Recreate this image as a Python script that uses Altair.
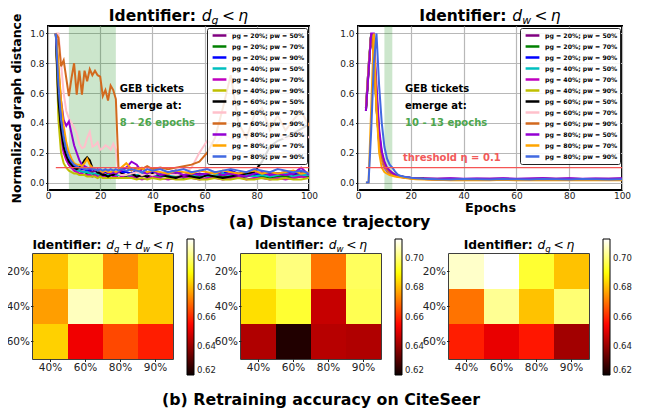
import altair as alt
import pandas as pd

# ---------------- data: distance trajectories ----------------
EPOCHS_L = list(range(3, 29)) + [30, 32, 34, 36, 38, 40] + list(range(43, 101, 3))
EPOCHS_R = list(range(3, 17)) + [18, 20, 22, 25] + list(range(30, 101, 5))

PG = ["20%", "20%", "20%", "40%", "40%", "40%", "60%", "60%", "60%", "80%", "80%", "80%"]
PW = ["50%", "70%", "90%", "50%", "70%", "90%", "50%", "70%", "90%", "50%", "70%", "90%"]
COLORS = ["#800080", "#008000", "#0000ff", "#00bfbf", "#bf00bf", "#bfbf00",
          "#000000", "#ffc0cb", "#d2691e", "#9400d3", "#ffa500", "#4169e1"]

# Identifier d_g < eta  (left panel)
dg_20_50 = [1.0,.62,.40,.28,.20,.16,.13,.12,.11,.10,.09,.09,.08,.08,.07,.08,.07,.07,.06,.07,.06,.07,.06,.06,.07,.06,
            .05,.06,.05,.04,.06,.05, .04,.05,.06,.04,.05,.06,.05,.04,.05,.06,.04,.05,.05,.04,.06,.05,.04,.05,.06,.05]
dg_20_70 = [1.0,.55,.33,.22,.16,.12,.10,.09,.08,.08,.07,.07,.06,.06,.06,.05,.06,.05,.05,.05,.04,.05,.05,.04,.05,.05,
            .04,.05,.04,.05,.04,.03, .04,.05,.04,.03,.04,.04,.05,.03,.04,.04,.03,.04,.05,.04,.03,.04,.04,.03,.04,.04]
dg_20_90 = [1.0,.70,.45,.30,.20,.15,.13,.11,.10,.10,.09,.09,.08,.08,.09,.08,.07,.08,.07,.07,.08,.07,.07,.06,.07,.07,
            .07,.06,.08,.07,.06,.07, .06,.07,.08,.06,.07,.05,.06,.07,.06,.08,.06,.07,.06,.05,.07,.06,.07,.06,.07,.06]
dg_40_50 = [1.0,.58,.36,.25,.18,.13,.11,.09,.08,.08,.07,.07,.07,.06,.06,.06,.05,.06,.05,.05,.05,.06,.05,.05,.05,.05,
            .05,.04,.05,.06,.05,.04, .05,.04,.05,.06,.04,.05,.04,.05,.06,.04,.05,.05,.04,.05,.04,.05,.06,.04,.05,.05]
dg_40_70 = [1.0,.50,.30,.20,.15,.12,.10,.08,.07,.06,.06,.05,.05,.05,.04,.05,.04,.04,.04,.04,.04,.03,.04,.04,.03,.04,
            .03,.04,.03,.02,.03,.04, .03,.02,.03,.04,.03,.02,.03,.03,.02,.03,.04,.02,.03,.03,.02,.03,.02,.03,.04,.03]
dg_40_90 = [1.0,.42,.20,.13,.10,.08,.07,.06,.06,.05,.05,.05,.04,.04,.04,.04,.03,.04,.03,.03,.03,.03,.03,.03,.03,.03,
            .03,.03,.02,.03,.02,.03, .02,.03,.02,.02,.03,.02,.02,.03,.02,.02,.03,.02,.02,.03,.02,.02,.03,.02,.02,.03]
dg_60_50 = [1.0,.55,.35,.24,.18,.14,.12,.10,.09,.10,.12,.15,.17,.15,.10,.08,.07,.06,.05,.05,.04,.05,.05,.06,.07,.06,
            .05,.06,.04,.05,.04,.06, .05,.04,.03,.05,.04,.03,.05,.04,.03,.04,.05,.06,.07,.14,.24,.28,.30,.33,.36,.39]
dg_60_70 = [1.0,1.0,.80,.60,.48,.43,.40,.37,.33,.26,.23,.24,.30,.34,.24,.25,.27,.22,.23,.25,.24,.22,.26,.22,.06,.05,
            .05,.06,.07,.05,.06,.05, .07,.06,.05,.06,.10,.20,.28,.25,.32,.30,.27,.33,.30,.26,.30,.33,.29,.31,.34,.30]
dg_60_90 = [1.0,.97,.78,.82,.70,.58,.70,.80,.59,.75,.59,.75,.68,.76,.72,.75,.72,.71,.58,.62,.55,.65,.62,.56,.10,.09,
            .10,.08,.10,.09,.11,.09, .10,.09,.10,.11,.12,.14,.20,.30,.50,.72,.40,.30,.45,.50,.35,.45,.35,.42,.48,.38]
dg_80_50 = [1.0,.75,.55,.42,.38,.41,.33,.25,.20,.15,.12,.11,.10,.09,.10,.08,.09,.08,.07,.08,.07,.06,.07,.06,.07,.08,
            .10,.14,.12,.07,.06,.08, .05,.06,.07,.05,.06,.05,.06,.07,.05,.06,.05,.04,.06,.07,.05,.06,.05,.06,.10,.05]
dg_80_70 = [1.0,.80,.55,.38,.27,.20,.16,.13,.12,.12,.11,.13,.16,.12,.10,.09,.08,.08,.07,.08,.07,.07,.08,.07,.08,.10,
            .13,.09,.08,.10,.07,.08, .07,.06,.08,.07,.06,.08,.07,.06,.08,.07,.06,.07,.08,.06,.07,.06,.07,.08,.06,.07]
dg_80_90 = [1.0,.65,.42,.30,.22,.17,.14,.12,.11,.10,.10,.09,.09,.10,.09,.09,.08,.09,.08,.09,.08,.09,.08,.09,.08,.09,
            .08,.09,.08,.07,.09,.08, .09,.07,.08,.09,.07,.08,.09,.07,.08,.09,.08,.07,.09,.08,.07,.09,.08,.07,.08,.06]

# Identifier d_w < eta  (right panel)
dw_20_50 = [.48,.75,1.0,.90,.55,.30,.18,.12,.09,.07,.06,.05,.045,.04, .035,.03,.03,.028,
            .025,.027,.024,.026,.025,.027,.024,.026,.028,.025,.027,.024,.026,.025,.027]
dw_20_70 = [.50,.78,1.0,.88,.52,.28,.17,.11,.08,.065,.055,.048,.043,.04, .034,.03,.028,.025,
            .022,.023,.021,.022,.020,.023,.021,.022,.020,.021,.023,.020,.022,.021,.020]
dw_20_90 = [.50,.77,1.0,.92,.60,.33,.20,.13,.09,.07,.06,.05,.045,.04, .035,.03,.027,.024,
            .022,.020,.022,.021,.023,.020,.022,.021,.020,.022,.021,.023,.020,.022,.021]
dw_40_50 = [.49,.76,1.0,.87,.50,.27,.16,.10,.08,.065,.055,.047,.042,.038, .033,.029,.027,.024,
            .022,.021,.020,.022,.021,.020,.022,.021,.020,.021,.022,.020,.021,.022,.020]
dw_40_70 = [.50,.78,1.0,.85,.50,.26,.16,.10,.08,.06,.05,.045,.04,.037, .032,.028,.026,.023,
            .020,.022,.021,.020,.023,.021,.020,.022,.021,.020,.022,.021,.020,.022,.021]
dw_40_90 = [.49,.77,1.0,.86,.50,.27,.17,.12,.10,.08,.065,.055,.048,.042, .035,.03,.028,.025,
            .022,.020,.021,.020,.022,.021,.020,.021,.022,.020,.021,.020,.022,.021,.020]
dw_60_50 = [.48,.75,1.0,.90,.56,.30,.18,.12,.09,.07,.06,.05,.045,.04, .034,.03,.028,.025,
            .023,.022,.021,.023,.022,.020,.022,.021,.023,.022,.020,.021,.023,.022,.021]
dw_60_70 = [.50,.78,1.0,.88,.53,.29,.17,.11,.085,.068,.057,.05,.044,.04, .034,.03,.027,.024,
            .022,.021,.022,.020,.021,.022,.021,.020,.022,.021,.020,.022,.021,.020,.022]
dw_60_90 = [.49,.76,1.0,.87,.52,.28,.17,.11,.085,.068,.057,.05,.044,.039, .033,.029,.027,.024,
            .021,.020,.021,.022,.020,.021,.022,.020,.021,.022,.020,.021,.022,.020,.021]
dw_80_50 = [.48,.74,1.0,1.0,.65,.36,.21,.14,.10,.08,.065,.055,.048,.043, .036,.032,.029,.027,
            .026,.028,.025,.027,.026,.028,.025,.027,.029,.026,.028,.025,.027,.026,.028]
dw_80_70 = [0.0,0.0,.50,1.0,.50,.20,.10,.07,.06,.05,.045,.04,.037,.035, .03,.025,.022,.02,
            .018,.016,.017,.015,.016,.018,.015,.017,.016,.015,.017,.016,.015,.017,.016]
dw_80_90 = [0.0,0.0,.35,.80,1.0,.65,.40,.24,.16,.12,.10,.075,.055,.045, .037,.032,.028,.025,
            .022,.021,.023,.022,.021,.023,.022,.021,.023,.022,.021,.023,.022,.021,.022]

LEFT = [dg_20_50, dg_20_70, dg_20_90, dg_40_50, dg_40_70, dg_40_90,
        dg_60_50, dg_60_70, dg_60_90, dg_80_50, dg_80_70, dg_80_90]
RIGHT = [dw_20_50, dw_20_70, dw_20_90, dw_40_50, dw_40_70, dw_40_90,
         dw_60_50, dw_60_70, dw_60_90, dw_80_50, dw_80_70, dw_80_90]

THRESH = 0.1
THRESH_START = 3
BAND_L = (8, 26)
BAND_R = (10, 13)

# ---------------- data: retraining accuracy heatmaps ----------------
HM_ROWS = ["20%", "40%", "60%"]
HM_COLS = ["40%", "60%", "80%", "90%"]
acc_both = [[.681, .697, .674, .682], [.676, .707, .697, .682], [.683, .652, .664, .658]]
acc_dw = [[.695, .701, .670, .698], [.685, .694, .646, .697], [.643, .623, .644, .643]]
acc_dg = [[.708, .713, .694, .681], [.670, .703, .681, .700], [.658, .651, .657, .641]]
CB_TICKS = [0.62, 0.64, 0.66, 0.68, 0.70]
HOT_DOMAIN = [0.62, 0.654, 0.6894, 0.713]
HOT_RANGE = ["#0b0000", "#ff0000", "#ffff00", "#ffffff"]

LABELS = [f"pg = {g};\u00a0pw = {w}" for g, w in zip(PG, PW)]

# ---------------- helpers ----------------
BOLD_W = {'I': .372, 'd': .716, 'e': .678, 'n': .712, 't': .478, 'i': .343, 'f': .435, 'r': .493, ':': .399}
ITAL_W = {'d': .635, 'g': .635, 'w': .818, 'η': .634}
REG_W = {'+': .838, '<': .838}


def title_layers(segs, size, cx, base_y):
    items, x = [], 0.0
    for style, val in segs:
        if style == 'gap':
            x += val * size
            continue
        if style == 'b':
            w = sum(BOLD_W[c] for c in val) * size
        elif style == 'i':
            w = sum(ITAL_W[c] for c in val) * size
        elif style == 'sub':
            w = sum(ITAL_W[c] for c in val) * size * 0.7
        else:
            w = sum(REG_W[c] for c in val) * size
        items.append((style, val, x))
        x += w
    start = cx - x / 2
    out = []
    for style, val, off in items:
        out.append(
            alt.Chart(pd.DataFrame({"t": [val]})).mark_text(
                align="left", baseline="alphabetic",
                fontSize=size * 0.7 if style == 'sub' else size,
                fontWeight="bold" if style == 'b' else "normal",
                fontStyle="italic" if style in ('i', 'sub') else "normal",
                dy=size * 0.22 if style == 'sub' else 0,
                color="black",
            ).encode(x=alt.value(start + off), y=alt.value(base_y), text="t:N")
        )
    return out


def seg_title(sub_letters):
    segs = [('b', "Identifier:"), ('gap', 0.348)]
    for k, s in enumerate(sub_letters):
        if k > 0:
            segs += [('gap', 0.22), ('r', "+"), ('gap', 0.22)]
        segs += [('i', "d"), ('sub', s)]
    segs += [('gap', 0.22), ('r', "<"), ('gap', 0.22), ('i', "η")]
    return segs


def line_panel(epochs, series, band, W, H, ytitle, sub, note):
    rows = []
    for lab, vals in zip(LABELS, series):
        assert len(vals) == len(epochs)
        for e, v in zip(epochs, vals):
            rows.append({"epoch": e, "dist": v, "series": lab})
    df = pd.DataFrame(rows)

    xs = alt.Scale(domain=[0, 100], nice=False)
    ys = alt.Scale(domain=[-0.05, 1.05], nice=False, zero=False)
    xaxis = alt.Axis(values=[0, 20, 40, 60, 80, 100], title="Epochs", titleFontSize=12.8,
                     titleFontWeight="bold", titlePadding=1, labelFontSize=9, ticks=False,
                     tickSize=0, labelPadding=1, domain=False, grid=True, labelFlush=False)
    yaxis = alt.Axis(values=[0, .2, .4, .6, .8, 1.0], format=".1f", title=ytitle if ytitle else None,
                     titleFontSize=12.5, titleFontWeight="bold", titlePadding=6, labelFontSize=9,
                     tickSize=2.5, labelPadding=1.5, domain=False, grid=True)

    bdf = pd.DataFrame({"s": [band[0]], "e": [band[1]]})
    band_l = alt.Chart(bdf).mark_rect(color="green", opacity=0.2).encode(
        x=alt.X("s:Q", scale=xs, axis=xaxis), x2="e:Q", y=alt.value(0), y2=alt.value(H))

    lines = alt.Chart(df).mark_line(strokeWidth=2, clip=True).encode(
        x=alt.X("epoch:Q", scale=xs, axis=xaxis),
        y=alt.Y("dist:Q", scale=ys, axis=yaxis),
        color=alt.Color("series:N", sort=LABELS,
                        scale=alt.Scale(domain=LABELS, range=COLORS),
                        legend=alt.Legend(orient="none", legendX=W - 102, legendY=2, title=None,
                                          symbolType="stroke", symbolStrokeWidth=2.5, symbolSize=190,
                                          clipHeight=11, rowPadding=0, labelFontSize=6.2,
                                          labelFontWeight="bold", labelColor="black",
                                          fillColor="rgba(255,255,255,0.85)", strokeColor="#222",
                                          padding=2, cornerRadius=2, labelOffset=4, symbolOffset=2)),
        detail="series:N",
    )

    tdf = pd.DataFrame({"x": [THRESH_START], "x2": [100], "y": [THRESH]})
    rule = alt.Chart(tdf).mark_rule(color="#f55555", strokeWidth=1.2).encode(
        x=alt.X("x:Q", scale=xs, axis=xaxis), x2="x2:Q", y=alt.Y("y:Q", scale=ys, axis=yaxis))

    layers = [band_l, lines, rule]
    for txt, xv, yv, col in note:
        ndf = pd.DataFrame({"x": [xv], "y": [yv], "t": [txt]})
        layers.append(alt.Chart(ndf).mark_text(align="left", baseline="middle", fontSize=10,
                                               fontWeight="bold", color=col).encode(
            x=alt.X("x:Q", scale=xs, axis=xaxis), y=alt.Y("y:Q", scale=ys, axis=yaxis), text="t:N"))
    layers += title_layers(seg_title([sub]), 15.5, W / 2, -5)
    return alt.layer(*layers).properties(width=W, height=H,
                                         view=alt.ViewBackground(stroke="black", strokeWidth=2))


def heatmap(vals, subs, W, H):
    rows = []
    for r, rv in zip(HM_ROWS, vals):
        for c, v in zip(HM_COLS, rv):
            rows.append({"row": r, "col": c, "acc": v})
    df = pd.DataFrame(rows)
    rect = alt.Chart(df).mark_rect().encode(
        x=alt.X("col:O", sort=HM_COLS, axis=alt.Axis(title=None, labelAngle=0, labelFontSize=10.5,
                                                     tickSize=2.5, labelPadding=1, domain=False)),
        y=alt.Y("row:O", sort=HM_ROWS, axis=alt.Axis(title=None, labelFontSize=10.5, tickSize=2.5,
                                                     labelPadding=1, domain=False)),
        color=alt.Color("acc:Q", scale=alt.Scale(domain=HOT_DOMAIN, range=HOT_RANGE,
                                                 interpolate="rgb", clamp=True),
                        legend=alt.Legend(orient="none", legendX=W + 14, legendY=-15, title=None,
                                          direction="vertical", gradientLength=136,
                                          gradientThickness=7, values=CB_TICKS, format=".2f",
                                          labelFontSize=8.5, labelColor="#222",
                                          gradientStrokeColor="black", gradientStrokeWidth=1,
                                          labelOffset=3, padding=0)),
    )
    layers = [rect] + title_layers(seg_title(subs), 12.3, W / 2, -5)
    return alt.layer(*layers).properties(width=W, height=H,
                                         view=alt.ViewBackground(stroke="black", strokeWidth=1.5))


GREEN = "#4da64d"
note_l = [("GEB tickets", 27.5, 0.627, "black"), ("emerge at:", 27.5, 0.513, "black"),
          ("8 - 26 epochs", 27.5, 0.40, GREEN)]
note_r = [("GEB tickets", 17.8, 0.627, "black"), ("emerge at:", 17.8, 0.513, "black"),
          ("10 - 13 epochs", 17.8, 0.40, GREEN), ("threshold η = 0.1", 17.0, 0.167, "#f25a5a")]

TL = line_panel(EPOCHS_L, LEFT, BAND_L, 261, 164, "Normalized graph distance", "g", note_l)
TR = line_panel(EPOCHS_R, RIGHT, BAND_R, 264, 164, None, "w", note_r)

spacer = alt.Chart(pd.DataFrame({"v": [0]})).mark_point(opacity=0, size=1).properties(
    width=1, height=1, view=alt.ViewBackground(stroke="transparent"))

top_inner = alt.hconcat(TL, TR, spacing=19).resolve_scale(
    color="independent").resolve_legend(color="independent")
top = alt.hconcat(spacer, top_inner, spacing=-26,
                  title=alt.TitleParams("(a) Distance trajectory", orient="bottom", frame="bounds",
                                        anchor="middle", offset=0, dx=9, fontSize=15.8,
                                        fontWeight="bold")).resolve_scale(
    color="independent").resolve_legend(color="independent")

H1 = heatmap(acc_both, ["g", "w"], 140, 105)
H2 = heatmap(acc_dw, ["w"], 140, 105)
H3 = heatmap(acc_dg, ["g"], 140, 105)
bottom = alt.hconcat(H1, H2, H3, spacing=-4,
                     title=alt.TitleParams("(b) Retraining accuracy on CiteSeer", orient="bottom",
                                           frame="bounds", anchor="middle", offset=16, dx=2,
                                           fontSize=15.8, fontWeight="bold")).resolve_scale(
    color="independent").resolve_legend(color="independent")

chart = alt.vconcat(top, bottom, spacing=8).resolve_scale(
    color="independent").resolve_legend(color="independent").properties(
    padding={"left": -3, "top": 0, "right": 0, "bottom": 0}
).configure(font="DejaVu Sans").configure_axis(
    labelColor="#222", gridColor="#b8b8b8", gridWidth=1.2, tickColor="#222"
).configure_view(stroke="black", strokeWidth=2)

chart.save("out.html", embed_options={"renderer": "svg", "actions": False})
